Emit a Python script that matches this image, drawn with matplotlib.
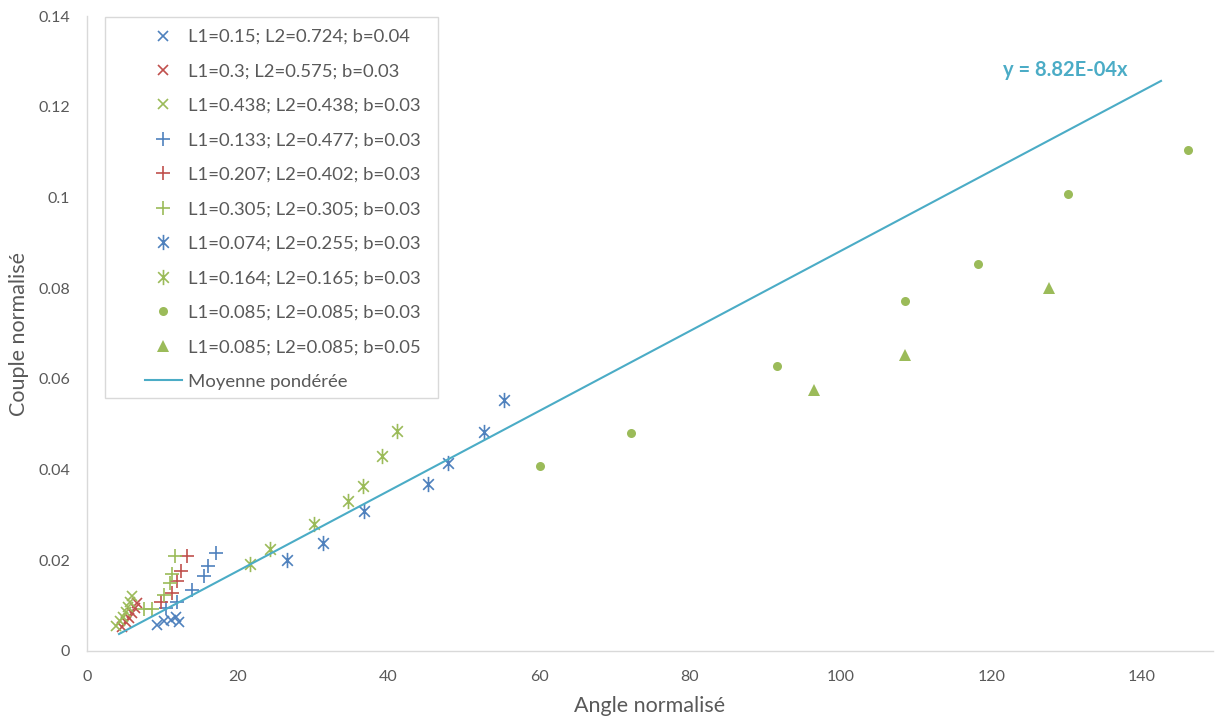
import matplotlib
matplotlib.use("Agg")
import matplotlib.pyplot as plt
import numpy as np
from matplotlib.path import Path
from matplotlib.patches import Rectangle

plt.rcParams['font.family'] = ['Lato', 'DejaVu Sans']

labels = [
    "L1=0.15; L2=0.724; b=0.04",
    "L1=0.3; L2=0.575; b=0.03",
    "L1=0.438; L2=0.438; b=0.03",
    "L1=0.133; L2=0.477; b=0.03",
    "L1=0.207; L2=0.402; b=0.03",
    "L1=0.305; L2=0.305; b=0.03",
    "L1=0.074; L2=0.255; b=0.03",
    "L1=0.164; L2=0.165; b=0.03",
    "L1=0.085; L2=0.085; b=0.03",
    "L1=0.085; L2=0.085; b=0.05",
]

s1_x = [9.3, 10.2, 11.1, 11.8, 12.2]
s1_y = [0.0057, 0.0066, 0.0068, 0.0075, 0.0064]

s2_x = [6.6, 6.4, 6.0, 5.6, 5.2, 4.6]
s2_y = [0.0106, 0.0095, 0.0084, 0.0073, 0.0064, 0.0053]

s3_x = [6.0, 5.7, 5.4, 5.2, 4.8, 4.4, 3.8]
s3_y = [0.0121, 0.0108, 0.0097, 0.0086, 0.0075, 0.0066, 0.0055]

s4_x = [17.1, 16.1, 15.5, 13.9, 11.9, 10.5]
s4_y = [0.0216, 0.0187, 0.0165, 0.0135, 0.0108, 0.0095]

s5_x = [13.3, 12.5, 11.9, 11.3, 9.8]
s5_y = [0.0209, 0.0176, 0.0154, 0.0128, 0.0108]

s6_x = [11.7, 11.3, 11.0, 10.2, 8.6, 7.6]
s6_y = [0.0209, 0.0170, 0.0150, 0.0123, 0.0093, 0.0093]

s7_x = [55.3, 52.7, 47.9, 45.2, 36.8, 31.3, 26.5]
s7_y = [0.0553, 0.0483, 0.0415, 0.0368, 0.0309, 0.0238, 0.0201]

s8_x = [41.1, 39.1, 36.6, 34.6, 30.1, 24.3, 21.6]
s8_y = [0.0485, 0.0430, 0.0364, 0.0331, 0.0280, 0.0225, 0.0192]

s9_x = [60.1, 72.2, 91.6, 108.5, 118.2, 130.2, 146.1]
s9_y = [0.0408, 0.0481, 0.0628, 0.0772, 0.0853, 0.1008, 0.1105]

s10_x = [96.5, 108.5, 127.7]
s10_y = [0.0576, 0.0653, 0.0800]

slope = 8.82e-4
line_x = [4.25, 142.5]

x_ticks = [0, 20, 40, 60, 80, 100, 120, 140]
y_ticks = [0, 0.02, 0.04, 0.06, 0.08, 0.1, 0.12, 0.14]
y_ticklabels = ["0", "0.02", "0.04", "0.06", "0.08", "0.1", "0.12", "0.14"]

BLUE = "#4F81BD"
RED = "#C0504D"
GREEN = "#9BBB59"
CYAN = "#4BACC6"
GRAY = "#595959"

# asterisk: x plus vertical bar
ast = Path([(-0.7, -0.7), (0.7, 0.7), (-0.7, 0.7), (0.7, -0.7), (0, -1), (0, 1)],
           [Path.MOVETO, Path.LINETO, Path.MOVETO, Path.LINETO, Path.MOVETO, Path.LINETO])

W, H = 1215, 720
fig = plt.figure(figsize=(12.15, 7.2), dpi=100)
ax = fig.add_axes([87/W, 1 - 651/H, (1213-87)/W, (651-16)/H])

series = [
    (s1_x, s1_y, 'x', BLUE, 7, 1.2),
    (s2_x, s2_y, 'x', RED, 7, 1.2),
    (s3_x, s3_y, 'x', GREEN, 7, 1.2),
    (s4_x, s4_y, '+', BLUE, 10, 1.2),
    (s5_x, s5_y, '+', RED, 10, 1.2),
    (s6_x, s6_y, '+', GREEN, 10, 1.2),
    (s7_x, s7_y, ast, BLUE, 11, 1.2),
    (s8_x, s8_y, ast, GREEN, 11, 1.2),
    (s9_x, s9_y, 'o', GREEN, 6.5, 0),
    (s10_x, s10_y, '^', GREEN, 9, 0),
]

handles = []
for (xs, ys, m, c, ms, mew), lab in zip(series, labels):
    h, = ax.plot(xs, ys, linestyle='none', marker=m, color=c, markersize=ms,
                 markeredgewidth=mew, label=lab)
    handles.append(h)

lx = np.array(line_x)
hl, = ax.plot(lx, slope * lx, color=CYAN, linewidth=1.5, label="Moyenne pondérée")
handles.append(hl)

fig.text(1065/W, 1 - 70/H, "y = 8.82E-04x",
         color=CYAN, fontsize=14.5, fontweight='bold', ha='center', va='center')

ax.set_xlim(0, 149.4)
ax.set_ylim(0, 0.14)
ax.set_xticks(x_ticks)
ax.set_yticks(y_ticks)
ax.set_yticklabels(y_ticklabels)
ax.tick_params(length=0, colors=GRAY, labelsize=11.5)
ax.tick_params(axis='x', pad=14)
ax.tick_params(axis='y', pad=12)
for s in ['top', 'right']:
    ax.spines[s].set_visible(False)
for s in ['left', 'bottom']:
    ax.spines[s].set_color("#D9D9D9")
    ax.spines[s].set_linewidth(1.0)

ax.set_xlabel("Angle normalisé", fontsize=15.5, color=GRAY, labelpad=8)
ax.set_ylabel("Couple normalisé", fontsize=15.5, color=GRAY, labelpad=7)

# legend frame
frame = Rectangle((105/W, 1 - 398/H), (438-105)/W, (398-17)/H,
                  transform=fig.transFigure, fill=True,
                  facecolor='white', edgecolor="#D9D9D9",
                  linewidth=1.0, zorder=4)
fig.add_artist(frame)

leg = fig.legend(handles=handles, loc='upper left', bbox_to_anchor=(145/W, 1 - 29/H),
                 bbox_transform=fig.transFigure, frameon=False,
                 fontsize=13.3, labelspacing=1.0,
                 handlelength=2.0, handletextpad=0.33, borderpad=0,
                 borderaxespad=0)
leg.set_zorder(5)
for t in leg.get_texts():
    t.set_color(GRAY)

fig.savefig("out.png", dpi=100)
